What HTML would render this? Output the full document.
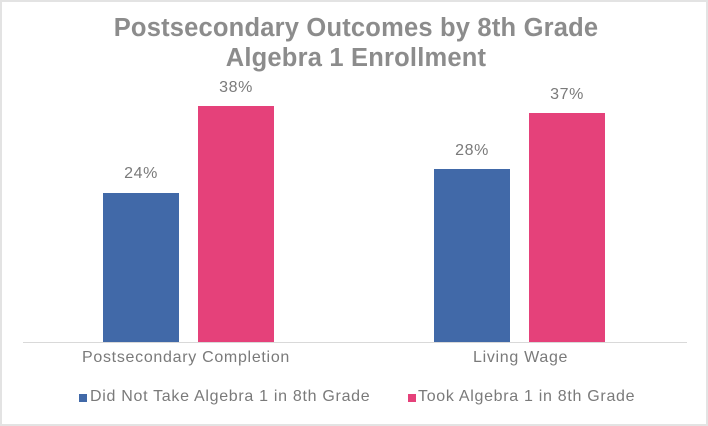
<!DOCTYPE html>
<html><head><style>
body{margin:0;background:#fff;}
.c{position:relative;width:708px;height:426px;box-sizing:border-box;border:2px solid #e3e3e3;background:#fff;font-family:"Liberation Sans",sans-serif;overflow:hidden;}
.t{position:absolute;left:0;top:11px;width:708px;text-align:center;font-weight:bold;font-size:25.5px;line-height:30px;color:#8c8c8c;letter-spacing:0.2px;}
.b{position:absolute;}
.l{position:absolute;font-size:16px;color:#7a7a7a;text-align:center;width:100px;letter-spacing:0.6px;}
.x{position:absolute;font-size:16px;color:#7a7a7a;letter-spacing:0.7px;white-space:nowrap;}
</style></head><body><div class="c">
<div class="t">Postsecondary Outcomes by 8th Grade<br>Algebra 1 Enrollment</div>
<div class="b" style="left:101px;top:191px;width:76px;height:150px;background:#4169a8"></div>
<div class="b" style="left:196px;top:104px;width:76px;height:237px;background:#e5417a"></div>
<div class="b" style="left:432px;top:167px;width:76px;height:174px;background:#4169a8"></div>
<div class="b" style="left:527px;top:111px;width:76px;height:230px;background:#e5417a"></div>
<div class="b" style="left:21px;top:340px;width:664px;height:1px;background:#d9d9d9"></div>
<div class="l" style="left:89px;top:163px">24%</div>
<div class="l" style="left:184px;top:77px">38%</div>
<div class="l" style="left:420px;top:140px">28%</div>
<div class="l" style="left:515px;top:84px">37%</div>
<div class="x" style="left:80px;top:347px">Postsecondary Completion</div>
<div class="x" style="left:471px;top:347px">Living Wage</div>
<div class="b" style="left:77px;top:392px;width:8px;height:8px;background:#4169a8"></div>
<div class="x" style="left:88px;top:386px">Did Not Take Algebra 1 in 8th Grade</div>
<div class="b" style="left:406px;top:392px;width:8px;height:8px;background:#e5417a"></div>
<div class="x" style="left:416px;top:386px">Took Algebra 1 in 8th Grade</div>
</div></body></html>
